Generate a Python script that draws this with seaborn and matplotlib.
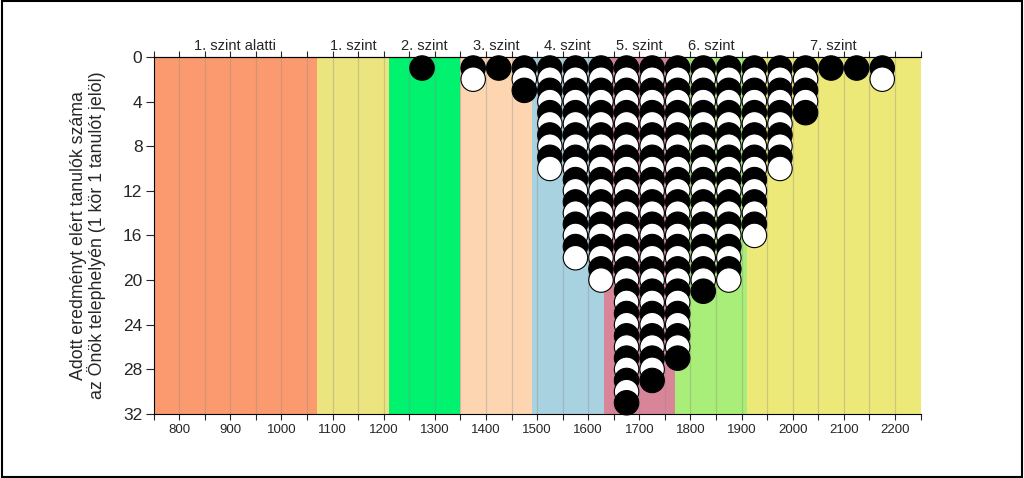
import pandas as pd
import seaborn as sns
import matplotlib.pyplot as plt
from matplotlib import font_manager
from matplotlib.patches import Rectangle

# competence level bands (score limits) and their colours
level_names = ["1. szint alatti", "1. szint", "2. szint", "3. szint",
               "4. szint", "5. szint", "6. szint", "7. szint"]
level_edges = [750, 1070, 1210, 1350, 1490, 1630, 1770, 1910, 2250]
level_colors = ["#FA9A6E", "#ECE47F", "#00F26E", "#FDD6B1",
                "#A8D2E0", "#D98599", "#A8EE78", "#EDE978"]

# score bin midpoints and number of students in each bin
bin_scores = [1275, 1375, 1425, 1475, 1525, 1575, 1625, 1675, 1725,
              1775, 1825, 1875, 1925, 1975, 2025, 2075, 2125, 2175]
bin_counts = [1, 2, 1, 3, 10, 18, 20, 31, 29,
              27, 21, 20, 16, 10, 5, 1, 1, 2]

# one row per student (circle)
rows = []
for score, n in zip(bin_scores, bin_counts):
    for k in range(1, n + 1):
        rows.append({"score": score, "rank": k,
                     "fill": "black" if k % 2 else "white"})
df = pd.DataFrame(rows)

sns.set_style("white")
plt.rcParams['font.family'] = ['Liberation Sans', 'DejaVu Sans']

# narrow font for the score tick labels, if one is installed
names = {f.name for f in font_manager.fontManager.ttflist}
narrow = None
for cand in ["Liberation Sans Narrow", "DejaVu Sans Condensed"]:
    if cand in names:
        narrow = cand
        break

fig = plt.figure(figsize=(10.24, 4.78), dpi=100)
ax = fig.add_axes([0.150, 0.134, 0.749, 0.747])

for i, name in enumerate(level_names):
    ax.axvspan(level_edges[i], level_edges[i + 1], color=level_colors[i],
               lw=0, zorder=0)

for x in range(800, 2250, 50):
    ax.axvline(x, color="#888888", alpha=0.35, lw=0.9, zorder=1)

sns.scatterplot(data=df, x="score", y="rank", hue="fill",
                palette={"black": "black", "white": "white"},
                s=310, edgecolor="black", linewidth=0.8,
                legend=False, ax=ax, zorder=3, clip_on=False)

ax.set_xlim(750, 2250)
ax.set_ylim(32, 0)
ax.set_xticks(range(800, 2201, 100))
ax.set_xticks(range(750, 2251, 50), minor=True)
ax.set_yticks(range(0, 33, 4))
ax.tick_params(axis="x", which="both", direction="out", length=4,
               width=0.8, bottom=True, labelsize=10.5, pad=3)
ax.tick_params(axis="y", direction="out", length=6, width=0.8, left=True,
               labelsize=12.5, pad=2)
for lab in ax.get_xticklabels():
    if narrow:
        lab.set_family(narrow)
    else:
        lab.set_fontstretch("condensed")
        lab.set_fontsize(9.5)
ax.set_xlabel("")
ax.set_ylabel("Adott eredményt elért tanulók száma\naz Önök telephelyén (1 kör 1 tanulót jelöl)",
              fontsize=12.8, labelpad=12, linespacing=1.05)

for side in ["left", "bottom", "top"]:
    ax.spines[side].set_visible(True)
    ax.spines[side].set_color("black")
    ax.spines[side].set_linewidth(0.8)
ax.spines["right"].set_visible(False)

# top axis with level names at band centres
top = ax.secondary_xaxis("top")
top.set_xticks(range(750, 2251, 50))
top.set_xticklabels([])
top.tick_params(direction="out", length=4, width=0.8)
centers = [(a + b) / 2 for a, b in zip(level_edges[:-1], level_edges[1:])]
for c, name in zip(centers, level_names):
    ax.text(c, 1.012, name, transform=ax.get_xaxis_transform(),
            ha="center", va="bottom", fontsize=10.5)

fig.patches.append(Rectangle((0.002, 0.003), 0.996, 0.994, fill=False,
                             edgecolor="black", lw=1.5,
                             transform=fig.transFigure, figure=fig))

fig.savefig("out.png", dpi=100)
